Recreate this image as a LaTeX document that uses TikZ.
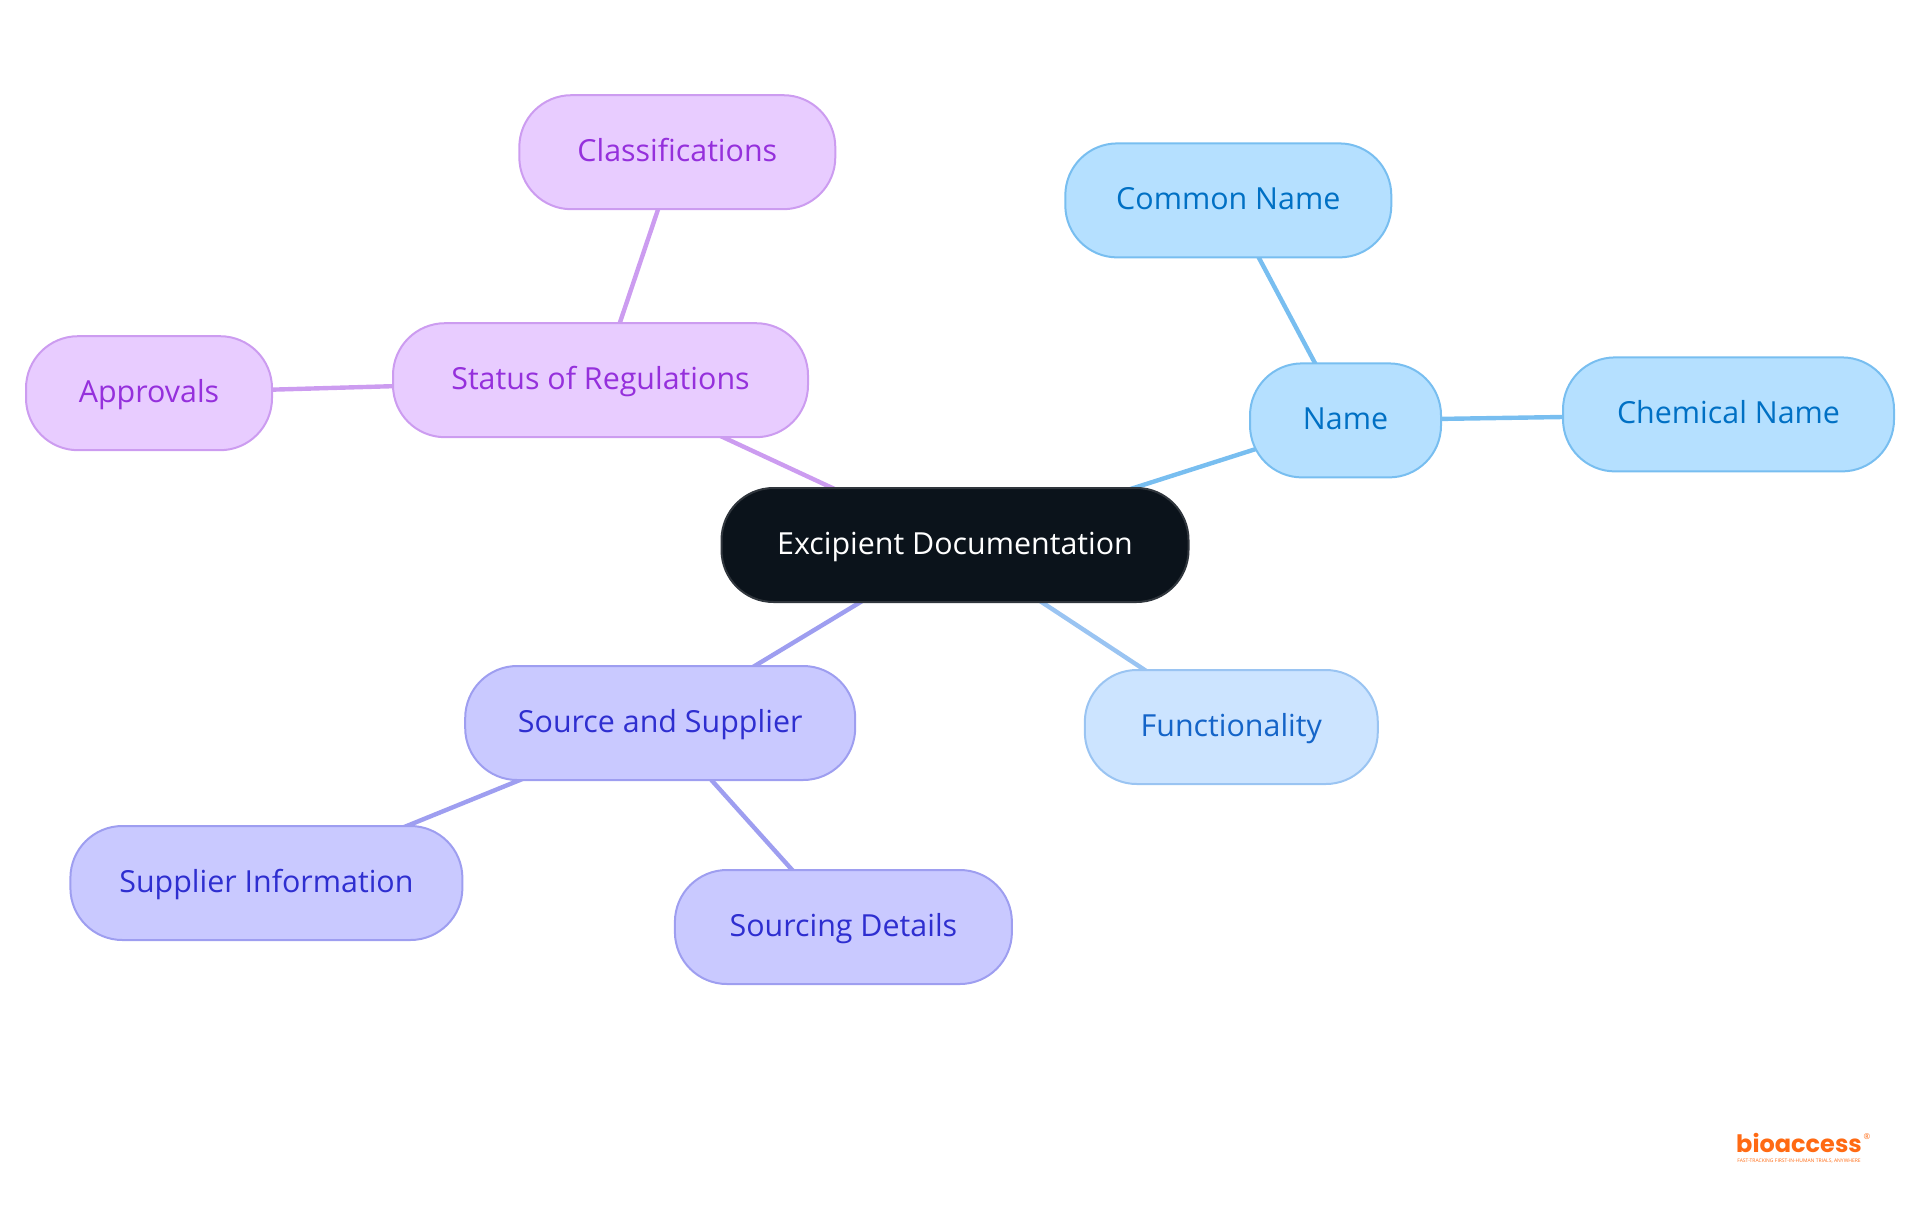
\documentclass[tikz,border=0pt]{standalone}
\usepackage{fontspec}
\setmainfont{Open Sans}
\newfontfamily\logofont{Poppins}
\usetikzlibrary{positioning, backgrounds}

\definecolor{rootfill}{HTML}{0B131B}
\definecolor{rootline}{HTML}{30363D}
\definecolor{violetfill}{HTML}{E8CCFF}
\definecolor{violetline}{HTML}{CC9CF0}
\definecolor{violettext}{HTML}{9530DC}
\definecolor{skyfill}{HTML}{B5E0FF}
\definecolor{skyline}{HTML}{78BEF0}
\definecolor{skytext}{HTML}{0070C4}
\definecolor{palefill}{HTML}{CCE4FF}
\definecolor{paleline}{HTML}{9AC4F2}
\definecolor{paletext}{HTML}{1464C8}
\definecolor{indigofill}{HTML}{C9C9FF}
\definecolor{indigoline}{HTML}{9E9EF0}
\definecolor{indigotext}{HTML}{2E2ED0}
\definecolor{logoorange}{HTML}{FF6A13}

\tikzset{
  mapbox/.style={draw, line width=1pt, rounded corners=26pt, inner sep=0pt,
    minimum height=57pt, text height=11.5pt, text depth=2.5pt,
    font=\fontsize{15.2}{18}\selectfont},
  rootbox/.style={mapbox, fill=rootfill, draw=rootline, text=white},
  violetbox/.style={mapbox, fill=violetfill, draw=violetline, text=violettext},
  skybox/.style={mapbox, fill=skyfill, draw=skyline, text=skytext},
  palebox/.style={mapbox, fill=palefill, draw=paleline, text=paletext},
  indigobox/.style={mapbox, fill=indigofill, draw=indigoline, text=indigotext},
  maplink/.style={line width=2.2pt},
  logotext/.style={inner sep=0pt, text=logoorange}
}

\begin{document}
\begin{tikzpicture}[x=0.5pt, y=-0.5pt]
    \useasboundingbox (0,0) rectangle (1920,1215);

    % Excipient Documentation
    \node [rootbox, minimum width=233.5pt] (Doc) at (955,545) {Excipient Documentation};%

    % Status of Regulations
    \node [violetbox, minimum width=207.5pt, above left=53.4pt and 73pt of Doc.center] (Status) {Status of Regulations};%
    % -- Classifications
    \node [violetbox, minimum width=158pt, above=56pt of Status.north, xshift=38.4pt] (Class) {Classifications};%
    % -- Approvals
    \node [violetbox, minimum width=123pt, left=59.5pt of Status.west, yshift=-6.5pt] (Appr) {Approvals};%

    % Name
    \node [skybox, minimum width=95.5pt, right=147pt of Doc.center, yshift=62.3pt] (Name) {Name};%
    % -- Common Name
    \node [skybox, minimum width=163pt, above=52pt of Name.north, xshift=-58.6pt] (Common) {Common Name};%
    % -- Chemical Name
    \node [skybox, minimum width=165.5pt, right=60pt of Name.east, yshift=3pt] (Chem) {Chemical Name};%

    % Functionality
    \node [palebox, minimum width=146.5pt, below right=62pt and 64.4pt of Doc.center] (Func) {Functionality};%

    % Source and Supplier
    \node [indigobox, minimum width=195pt, below left=60pt and 49.4pt of Doc.center] (Source) {Source and Supplier};%
    % -- Supplier Information
    \node [indigobox, minimum width=196pt, below left=22pt and 0.4pt of Source.south west] (Info) {Supplier Information};%
    % -- Sourcing Details
    \node [indigobox, minimum width=168.5pt, below=44pt of Source.south, xshift=91.6pt] (Details) {Sourcing Details};%

    % links
    \begin{pgfonlayer}{background}
      \draw [maplink, violetline] (Doc.center) -- (Status.center);%
      \draw [maplink, violetline] (Status.center) -- (Class.center);%
      \draw [maplink, violetline] (Status.center) -- (Appr.center);%
      \draw [maplink, skyline] (Doc.center) -- (Name.center);%
      \draw [maplink, skyline] (Name.center) -- (Common.center);%
      \draw [maplink, skyline] (Name.center) -- (Chem.center);%
      \draw [maplink, paleline] (Doc.center) -- (Func.center);%
      \draw [maplink, indigoline] (Doc.center) -- (Source.center);%
      \draw [maplink, indigoline] (Source.center) -- (Info.center);%
      \draw [maplink, indigoline] (Source.center) -- (Details.center);%
    \end{pgfonlayer}

    % logo
    \node [logotext, font=\logofont\fontsize{12}{13}\selectfont\bfseries] (Logo) at (1799,1143) {bioaccess};%
    \node [logotext, font=\fontsize{4}{4}\selectfont, right=0.5pt of Logo.north east, yshift=-2pt] (LogoMark) {®};%
    \node [logotext, font=\fontsize{2.5}{3}\selectfont, below=2.5pt of Logo.south] (LogoTag) {FAST-TRACKING FIRST-IN-HUMAN TRIALS, ANYWHERE};%
\end{tikzpicture}
\end{document}
